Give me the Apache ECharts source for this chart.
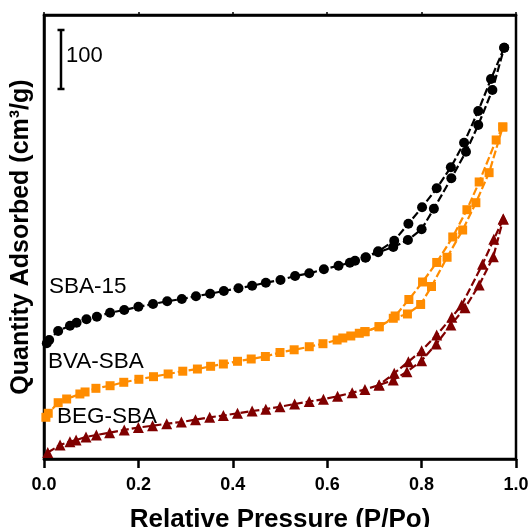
<!DOCTYPE html>
<html>
<head>
<meta charset="utf-8">
<script src="https://cdn.jsdelivr.net/npm/echarts@6/dist/echarts.min.js"></script>
<style>html,body{margin:0;padding:0;background:#fff}#c{width:532px;height:527px}</style>
</head>
<body>
<div id="c"></div>
<script>
// ---- data (x = P/Po, y = quantity adsorbed, offset for display, cm3/g) ----
const xTicks = [0.0, 0.2, 0.4, 0.6, 0.8, 1.0];

const sbaAdsX = [0.006,0.011,0.030,0.055,0.069,0.090,0.112,0.140,0.170,0.200,0.231,0.261,0.292,0.322,0.352,0.381,0.412,0.441,0.470,0.501,0.532,0.562,0.593,0.624,0.648,0.681,0.708,0.740,0.771,0.800,0.826,0.863,0.894,0.920,0.950,0.975];
const sbaAdsY = [196.1,201.7,216.9,225.9,231.0,236.8,241.2,248.0,252.5,258.1,262.7,267.3,271.2,275.8,280.2,284.7,289.3,293.7,298.8,303.4,310.2,314.7,321.5,327.6,332.7,341.0,350.3,359.3,371.2,389.5,424.2,475.8,520.8,566.1,625.4,697.1];
const sbaDesX = [0.975,0.947,0.920,0.890,0.862,0.832,0.801,0.772,0.742,0.708,0.682,0.659];
const sbaDesY = [697.1,644.1,589.8,536.1,494.4,458.8,426.6,398.8,370.0,352.0,342.0,336.0];

const bvaAdsX = [0.004,0.009,0.030,0.048,0.076,0.087,0.110,0.140,0.169,0.201,0.232,0.263,0.294,0.325,0.353,0.380,0.410,0.439,0.469,0.500,0.530,0.562,0.591,0.621,0.633,0.650,0.668,0.680,0.710,0.740,0.770,0.798,0.821,0.854,0.887,0.915,0.943,0.972];
const bvaAdsY = [70.7,77.5,95.4,101.7,110.2,113.6,119.8,124.2,130.0,135.1,139.5,144.1,148.8,152.5,157.1,161.0,165.6,169.5,173.7,180.5,185.1,190.3,195.4,201.7,205.1,208.5,213.1,215.8,224.2,238.5,245.8,261.9,292.4,341.9,388.1,434.4,485.3,562.7];
const bvaDesX = [0.972,0.958,0.922,0.896,0.866,0.832,0.802,0.773,0.744,0.710,0.680];
const bvaDesY = [562.7,540.7,469.5,422.5,376.3,333.1,300.0,270.3,242.4,224.2,215.8];

const begAdsX = [0.008,0.034,0.055,0.068,0.089,0.111,0.139,0.170,0.200,0.230,0.260,0.291,0.321,0.351,0.380,0.410,0.441,0.470,0.500,0.531,0.562,0.592,0.622,0.653,0.680,0.710,0.740,0.769,0.800,0.831,0.862,0.892,0.922,0.952,0.973];
const begAdsY = [11.0,23.7,29.3,32.2,37.3,40.7,44.6,49.2,53.4,56.4,59.8,62.7,66.6,70.7,73.7,77.5,81.4,84.4,88.6,93.2,97.5,101.4,106.3,112.4,117.8,125.4,133.9,148.0,166.6,194.9,227.1,256.4,294.9,342.9,406.8];
const begDesX = [0.973,0.953,0.929,0.885,0.864,0.832,0.800,0.772,0.742,0.710];
const begDesY = [406.8,372.4,330.0,261.0,240.2,210.2,183.6,164.9,145.3,125.4];

const sampleNames = ['SBA-15', 'BVA-SBA', 'BEG-SBA'];
const scaleBarX = 0.036, scaleBarFrom = 627.1, scaleBarValue = 100;
const xTitle = 'Relative Pressure (P/Po)';
const yTitle = 'Quantity Adsorbed (cm³/g)';

const zip = (xs, ys) => xs.map((x, i) => [x, ys[i]]);

const C_BLACK = '#000000', C_ORANGE = '#FF8C00', C_RED = '#800000';

function branch(name, data, color, symbol, size) {
  return {
    name, type: 'line', data, symbol, symbolSize: size,
    itemStyle: { color },
    lineStyle: { color, width: 2.2, type: [8, 3] },
    clip: false, animation: false
  };
}

const chart = echarts.init(document.getElementById('c'), null, { renderer: 'canvas' });
const FONT = '"Liberation Sans", Arial, sans-serif';

chart.setOption({
  animation: false,
  backgroundColor: '#fff',
  grid: { left: 44, right: 16, top: 15, bottom: 68, containLabel: false, outerBoundsMode: 'none',
    show: true, borderColor: '#000', borderWidth: 2.5 },
  xAxis: [{
    type: 'value', min: 0, max: 1, interval: 0.2, position: 'bottom',
    axisLine: { show: true, onZero: false, lineStyle: { color: '#000', width: 2.5 } },
    axisTick: { show: true, length: 9, lineStyle: { color: '#000', width: 2.5 } },
    axisLabel: { color: '#000', fontFamily: FONT, fontWeight: 'bold', fontSize: 18, margin: 17,
      formatter: v => { const t = xTicks.find(k => Math.abs(k - v) < 1e-9); return t === undefined ? '' : t.toFixed(1); } },
    splitLine: { show: false },
    name: xTitle, nameLocation: 'middle', nameGap: 48,
    nameTextStyle: { color: '#000', fontFamily: FONT, fontWeight: 'bold', fontSize: 26 }
  }, {
    type: 'value', min: 0, max: 1, interval: 0.2, position: 'top',
    axisLine: { show: true, onZero: false, lineStyle: { color: '#000', width: 2.5 } },
    axisTick: { show: true, length: 3, lineStyle: { color: '#000', width: 1.5 } },
    axisLabel: { show: false }, splitLine: { show: false }
  }],
  yAxis: [{
    type: 'value', min: 0, max: 752.5, position: 'left',
    axisLine: { show: true, onZero: false, lineStyle: { color: '#000', width: 2.5 } },
    axisTick: { show: false }, axisLabel: { show: false }, splitLine: { show: false },
    name: yTitle, nameLocation: 'middle', nameGap: 10,
    nameTextStyle: { color: '#000', fontFamily: FONT, fontWeight: 'bold', fontSize: 25 }
  }],
  series: [
    branch('SBA-15 ads', zip(sbaAdsX, sbaAdsY), C_BLACK, 'circle', 10),
    branch('SBA-15 des', zip(sbaDesX, sbaDesY), C_BLACK, 'circle', 10),
    branch('BVA-SBA ads', zip(bvaAdsX, bvaAdsY), C_ORANGE, 'rect', 9),
    branch('BVA-SBA des', zip(bvaDesX, bvaDesY), C_ORANGE, 'rect', 9),
    branch('BEG-SBA ads', zip(begAdsX, begAdsY), C_RED, 'triangle', 11),
    branch('BEG-SBA des', zip(begDesX, begDesY), C_RED, 'triangle', 11),
    {
      type: 'custom', name: 'scale bar', silent: true, animation: false,
      data: [[scaleBarX, scaleBarFrom, scaleBarFrom + scaleBarValue]],
      renderItem: function (params, api) {
        const a = api.coord([api.value(0), api.value(1)]);
        const b = api.coord([api.value(0), api.value(2)]);
        const st = { stroke: '#000', lineWidth: 2.5 };
        return { type: 'group', children: [
          { type: 'line', shape: { x1: a[0], y1: a[1], x2: b[0], y2: b[1] }, style: st },
          { type: 'line', shape: { x1: a[0] - 3.5, y1: a[1], x2: a[0] + 3.5, y2: a[1] }, style: st },
          { type: 'line', shape: { x1: b[0] - 3.5, y1: b[1], x2: b[0] + 3.5, y2: b[1] }, style: st },
          { type: 'text', x: a[0] + 5, y: (a[1] + b[1]) / 2 - 4,
            style: { text: String(scaleBarValue), fill: '#000', font: '22px ' + FONT, textVerticalAlign: 'middle', textAlign: 'left' } }
        ] };
      }
    }
  ],
  graphic: [
    { type: 'text', left: 49, top: 275, style: { text: sampleNames[0], fill: '#000', font: '22.5px ' + FONT } },
    { type: 'text', left: 48, top: 350, style: { text: sampleNames[1], fill: '#000', font: '22.5px ' + FONT } },
    { type: 'text', left: 57, top: 405, style: { text: sampleNames[2], fill: '#000', font: '22.5px ' + FONT } }
  ]
});
</script>
</body>
</html>
